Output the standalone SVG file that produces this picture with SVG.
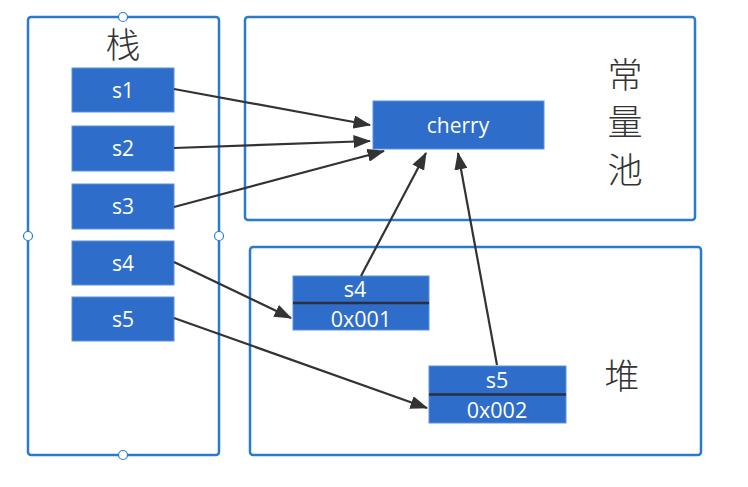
<svg xmlns="http://www.w3.org/2000/svg" width="748" height="487" viewBox="0 0 748 487">
<style>
.box{fill:#fff;stroke:#2a7ad0;stroke-width:2.5}
.cell{fill:#2e6dc9;stroke:#5b93dc;stroke-width:1}
.t{font-family:"Segoe UI","Open Sans","Noto Sans",sans-serif;fill:#fff;font-size:21px;text-anchor:middle;dominant-baseline:central}
.t2{font-size:21.5px}
.cjk{font-family:"Noto Sans CJK SC",sans-serif;fill:#333;font-size:35px;font-weight:300;text-anchor:middle;dominant-baseline:central}
.edge{stroke:#333;stroke-width:2.2;fill:none;marker-end:url(#ah)}
.div{stroke:#2b3040;stroke-width:2.5}
.handle{fill:#fff;stroke:#2a7ad0;stroke-width:1.2}
</style>
<defs>
<marker id="ah" markerWidth="8" markerHeight="6" refX="7.5" refY="3" orient="auto" markerUnits="strokeWidth">
<path d="M0,0 L8,3 L0,6 Z" fill="#333"/>
</marker>
</defs>
<rect width="748" height="487" fill="#fff"/>
<g id="stack">
<rect class="box" x="28" y="17" width="191" height="438" rx="3"/>
<text class="cjk" x="123" y="42">栈</text>
<circle class="handle" cx="123" cy="17" r="4.5"/>
<circle class="handle" cx="28" cy="236" r="4.5"/>
<circle class="handle" cx="219" cy="236" r="4.5"/>
<circle class="handle" cx="123" cy="455" r="4.5"/>
</g>
<g id="pool">
<rect class="box" x="245" y="17" width="450" height="203" rx="3"/>
<text class="cjk" x="625" y="72">常</text>
<text class="cjk" x="625" y="119">量</text>
<text class="cjk" x="625" y="167">池</text>
</g>
<g id="heap">
<rect class="box" x="250" y="247" width="451" height="208" rx="3"/>
<text class="cjk" x="622" y="373">堆</text>
</g>
<g id="s1"><rect class="cell" x="72" y="68" width="102" height="44"/><text class="t" x="123" y="90">s1</text></g>
<g id="s2"><rect class="cell" x="72" y="126" width="102" height="45"/><text class="t" x="123" y="148">s2</text></g>
<g id="s3"><rect class="cell" x="72" y="184" width="102" height="45"/><text class="t" x="123" y="206">s3</text></g>
<g id="s4"><rect class="cell" x="72" y="241" width="102" height="44"/><text class="t" x="123" y="263">s4</text></g>
<g id="s5"><rect class="cell" x="72" y="297" width="102" height="44"/><text class="t" x="123" y="319">s5</text></g>
<g id="cherry"><rect class="cell" x="373" y="101" width="171" height="48"/><text class="t" x="458" y="125" font-size="22">cherry</text></g>
<g id="heap-s4">
<rect class="cell" x="293" y="276" width="136" height="54"/>
<line class="div" x1="293" y1="303" x2="429" y2="303"/>
<text class="t t2" x="355" y="288">s4</text>
<text class="t t2" x="361" y="318">0x001</text>
</g>
<g id="heap-s5">
<rect class="cell" x="429" y="366" width="137" height="57"/>
<line class="div" x1="429" y1="394.5" x2="566" y2="394.5"/>
<text class="t t2" x="497" y="379">s5</text>
<text class="t t2" x="497" y="409">0x002</text>
</g>
<g id="connectors">
<line class="edge" x1="174" y1="89" x2="370" y2="125"/>
<line class="edge" x1="174" y1="148" x2="370" y2="141"/>
<line class="edge" x1="174" y1="207" x2="384" y2="151"/>
<line class="edge" x1="361" y1="276" x2="426" y2="153"/>
<line class="edge" x1="497" y1="365" x2="458" y2="153"/>
<line class="edge" x1="174" y1="262" x2="291" y2="318"/>
<line class="edge" x1="174" y1="318" x2="427" y2="408"/>
</g>
</svg>
